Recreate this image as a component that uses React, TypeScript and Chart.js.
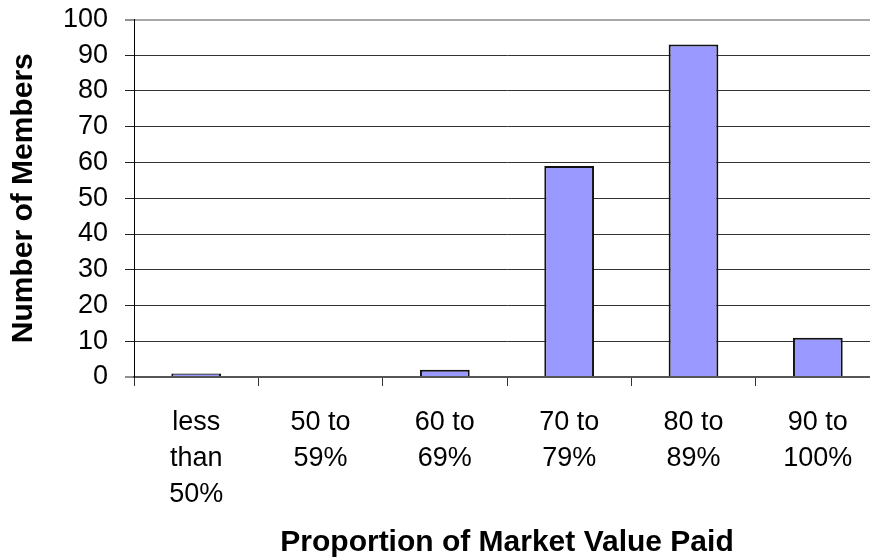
import React, { useEffect, useRef } from "react";
import { Chart, registerables } from "chart.js";

Chart.register(...registerables);

const categories: string[][] = [
  ["less", "than", "50%"],
  ["50 to", "59%"],
  ["60 to", "69%"],
  ["70 to", "79%"],
  ["80 to", "89%"],
  ["90 to", "100%"],
];
const members: number[] = [1, 0, 2, 59, 93, 11];
const yMin = 0;
const yMax = 100;
const yStep = 10;
const xTitle = "Proportion of Market Value Paid";
const yTitle = "Number of Members";

const FONT = 'Arial, "Liberation Sans", Helvetica, sans-serif';

export default function App() {
  const canvasRef = useRef<HTMLCanvasElement | null>(null);

  useEffect(() => {
    if (!canvasRef.current) return;
    const chart = new Chart(canvasRef.current, {
      type: "bar",
      data: {
        labels: categories,
        datasets: [
          {
            data: members,
            backgroundColor: "#9999FF",
            borderColor: "#111111",
            borderWidth: 2,
            barPercentage: 0.4,
            categoryPercentage: 1,
          },
        ],
      },
      options: {
        animation: false,
        responsive: true,
        maintainAspectRatio: false,
        layout: { autoPadding: false, padding: { top: 19.5, left: 0, right: 0, bottom: 0 } },
        plugins: {
          legend: { display: false },
          tooltip: { enabled: false },
        },
        scales: {
          x: {
            afterFit: (s: any) => {
              s.height = 181;
              s.paddingLeft = 0;
              s.paddingRight = 0;
            },
            grid: {
              display: true,
              drawOnChartArea: false,
              drawTicks: true,
              tickLength: 9,
              color: "#333333",
              offset: true,
            },
            border: { display: true, color: "#555555", width: 2 },
            ticks: {
              color: "#000000",
              padding: 19,
              maxRotation: 0,
              autoSkip: false,
              font: { family: FONT, size: 27, lineHeight: 36 / 27 },
            },
            title: {
              display: true,
              text: xTitle,
              color: "#000000",
              font: { family: FONT, size: 30, weight: "bold", lineHeight: 1 },
              padding: { top: 0, bottom: 0 },
            },
          },
          y: {
            min: yMin,
            max: yMax,
            afterFit: (s: any) => {
              s.width = 134;
              s.paddingTop = 0;
              s.paddingBottom = 0;
            },
            grid: {
              drawTicks: true,
              tickLength: 9,
              color: (ctx: any) =>
                ctx.tick && ctx.tick.value === yMax
                  ? "#a8a8a8"
                  : ctx.tick && ctx.tick.value === yMin
                  ? "#555555"
                  : "#333333",
              lineWidth: (ctx: any) =>
                ctx.tick && (ctx.tick.value === yMax || ctx.tick.value === yMin) ? 2 : 1,
              tickColor: "#222222",
              tickWidth: 1,
            },
            border: { display: true, color: "#000000", width: 1 },
            ticks: {
              stepSize: yStep,
              autoSkip: false,
              color: "#000000",
              padding: 17,
              font: { family: FONT, size: 27 },
            },
            title: {
              display: true,
              text: yTitle,
              color: "#000000",
              font: { family: FONT, size: 30, weight: "bold", lineHeight: 1 },
              padding: { top: 9, bottom: 0 },
            },
          },
        },
      },
    });
    return () => chart.destroy();
  }, []);

  return (
    <div
      style={{
        position: "absolute",
        left: 0,
        top: 0,
        width: 870,
        height: 558,
        overflow: "hidden",
        background: "#ffffff",
      }}
    >
      <div style={{ position: "relative", width: 880, height: 558 }}>
        <canvas ref={canvasRef} />
      </div>
    </div>
  );
}
